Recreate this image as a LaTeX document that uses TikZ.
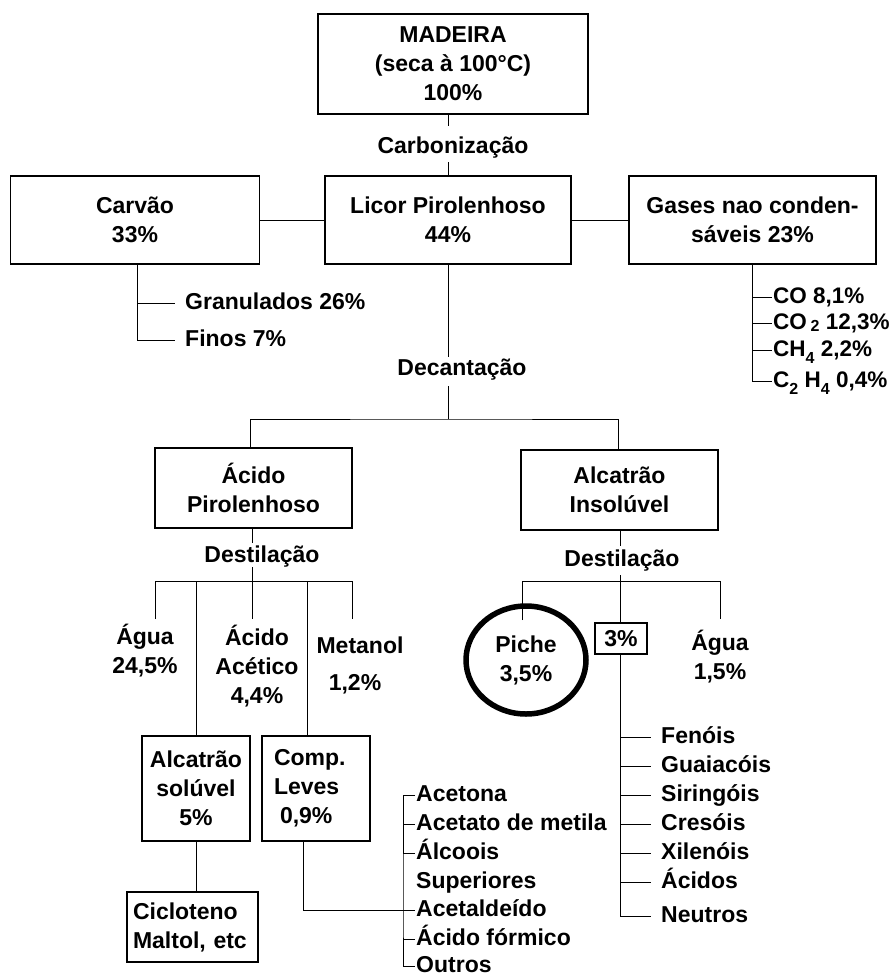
\documentclass[tikz,border=0pt]{standalone}
\usepackage{fontspec}
\setmainfont{Liberation Sans}
\usetikzlibrary{shapes.geometric}
\newcommand{\sbt}[2][6]{\smash{\raisebox{-#1pt}{\fontsize{16}{16}\selectfont #2}}}
\begin{document}
\begin{tikzpicture}[x=1pt,y=-1pt,
  every node/.style={font=\bfseries\fontsize{23}{29}\selectfont, inner sep=0pt},
  box/.style={draw, line width=1.4pt, align=center},
  lbl/.style={align=center},
  lft/.style={anchor=west, text height=17pt, text depth=5pt},
  gasl/.style={anchor=west, text height=17pt, text depth=5pt, font=\bfseries\fontsize{22.5}{26}\selectfont},
  ln/.style={line width=1pt}]
\fill[white] (0,0) rectangle (896,979);
\useasboundingbox (0,0) rectangle (896,979);

% top level
\node[box, minimum width=270, minimum height=100] (mad) at (453,64) {MADEIRA\\(seca à 100°C)\\100\%};
\node[lbl] (carb) at (453,148) {Carbonização};
\node[box, minimum width=249, minimum height=88] (carv) at (135,220) {Carvão\\33\%};
\node[box, minimum width=246, minimum height=88] (lic) at (448,220) {Licor Pirolenhoso\\44\%};
\node[box, minimum width=247, minimum height=88] (gas) at (752.5,220) {Gases nao conden-\\sáveis 23\%};

\draw[ln] (lic.north |- mad.south) -- ++(0,11);
\draw[ln] (lic.north) -- ++(0,-13);
\draw[ln] (carv.east) -- (lic.west);
\draw[ln] (lic.east) -- (gas.west);

% charcoal
\node[lft] (gran) at (185,303) {Granulados 26\%};
\node[lft] (fin) at (185,340) {Finos 7\%};
\draw[ln] ([xshift=2]carv.south) |- ([xshift=-10]fin.west);
\draw[ln] ([xshift=2]carv.south |- gran.west) -- ([xshift=-10]gran.west);

% gases
\node[gasl] (g1) at (773,297) {CO 8,1\%};
\node[gasl] (g2) at (773,323) {CO\,\sbt[2]{2} 12,3\%};
\node[gasl] (g3) at (773,350) {CH\sbt[7]{4} 2,2\%};
\node[gasl] (g4) at (773,381) {C\sbt[7]{2} H\sbt[7]{4} 0,4\%};
\draw[ln] (gas.south) |- ([xshift=-1]g4.west);
\foreach \g in {g1,g2,g3} \draw[ln] (gas.south |- \g.west) -- ([xshift=-1]\g.west);

% decantation
\node[lbl] (dec) at (462,370) {Decantação};
\coordinate (dj) at (448,419);
\draw[ln] (lic.south) -- ++(0,92);
\draw[ln] (lic.south |- dj) -- ++(0,-33);
\node[box, minimum width=197, minimum height=80] (ac) at (253.5,488) {Ácido\\Pirolenhoso};
\node[box, minimum width=197, minimum height=80] (alc) at (619.5,490) {Alcatrão\\Insolúvel};
\draw[ln] ([xshift=-3]ac.north) |- (dj) -| ([xshift=-1]alc.north);

% left distillation
\node[lbl] (d1) at (262,557) {Destilação};
\coordinate (h1) at (252,581);
\draw[ln] (ac.south -| h1) -- ++(0,14);
\draw[ln] (h1) -- ++(0,-14);
\coordinate (p1) at (155,619);
\coordinate (p3) at (252,619);
\coordinate (p5) at (352,619);
\draw[ln] (p1) |- (p5 |- h1) -- (p5);
\draw[ln] (h1) -- (p3);
\node[lbl] (agua1) at (145,651) {Água\\24,5\%};
\node[lbl] (acet) at (257,666) {Ácido\\Acético\\4,4\%};
\node[lbl] (met) at (360,645) {Metanol};
\node[lbl] (metp) at (355,684) {1,2\%};

\node[box, minimum width=108, minimum height=105] (alcsol) at (196,788.5) {Alcatrão\\solúvel\\5\%};
\node[box, minimum width=108, minimum height=105, text width=84, align=left] (comp) at (316,788.5) {Comp.\\Leves\\\hspace*{6pt}0,9\%};
\node[box, minimum width=131, minimum height=70, text width=119, align=left] (cicl) at (192.5,927) {Cicloteno\\Maltol, etc};
\draw[ln] (alcsol.north) -- (alcsol.north |- h1);
\draw[ln] ([xshift=-9]comp.north) -- ([xshift=-9]comp.north |- h1);
\draw[ln] (alcsol.south) -- (alcsol.south |- cicl.north);

% light compounds list
\node[lft] (l1) at (416,795) {Acetona};
\node[lft] (l2) at (416,824) {Acetato de metila};
\node[lft] (l3) at (416,853) {Álcoois};
\node[lft] (l4) at (416,882) {Superiores};
\node[lft] (l5) at (416,910) {Acetaldeído};
\node[lft] (l6) at (416,939) {Ácido fórmico};
\node[lft] (l7) at (416,966) {Outros};
\coordinate (lv) at (403,910);
\draw[ln] ([xshift=-13]comp.south) |- (lv);
\draw[ln] ([xshift=-1]l1.west) -| (lv) |- ([xshift=-1]l7.west);
\foreach \l in {l2,l3,l5,l6} \draw[ln] (lv |- \l.west) -- ([xshift=-1]\l.west);

% right distillation
\node[lbl] (d2) at (622,561) {Destilação};
\coordinate (h2) at (620,581);
\draw[ln] (alc.south -| h2) -- ++(0,15);
\draw[ln] (h2) -- ++(0,-6);
\coordinate (q1) at (522,620);
\coordinate (q3) at (720,619);
\draw[ln] (q1) |- (q3 |- h2) -- (q3);
\node[box, line width=1.2pt, minimum width=52, minimum height=31] (b3) at (621,638.5) {3\%};
\draw[ln] (h2) -- (b3.north -| h2);
\node[draw, ellipse, line width=5.5pt, minimum width=120, minimum height=108, align=center] (piche) at (526,660) {Piche\\3,5\%};
\node[lbl] (agua2) at (720,657) {Água\\1,5\%};

% phenols list
\node[lft] (f1) at (661,737) {Fenóis};
\node[lft] (f2) at (661,766) {Guaiacóis};
\node[lft] (f3) at (661,795) {Siringóis};
\node[lft] (f4) at (661,824) {Cresóis};
\node[lft] (f5) at (661,853) {Xilenóis};
\node[lft] (f6) at (661,882) {Ácidos};
\node[lft] (f7) at (661,916) {Neutros};
\draw[ln] (b3.south -| h2) |- ([xshift=-10]f7.west);
\foreach \f in {f1,f2,f3,f4,f5,f6} \draw[ln] (h2 |- \f.west) -- ([xshift=-10]\f.west);
\end{tikzpicture}
\end{document}
